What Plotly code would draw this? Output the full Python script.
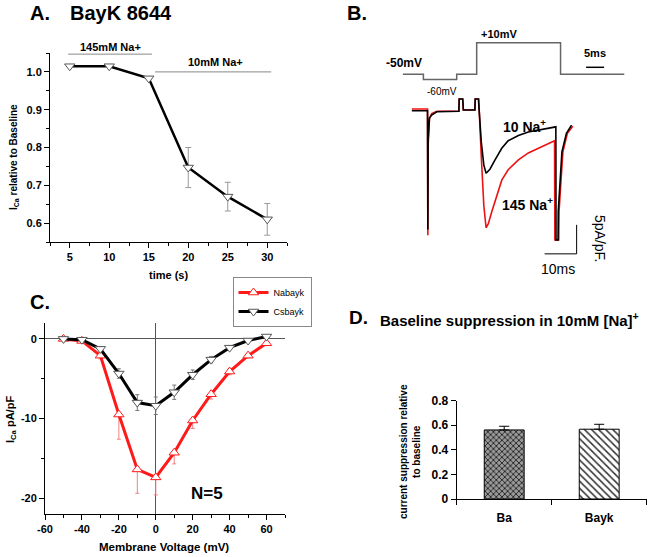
import plotly.graph_objects as go

W, H = 652, 557
FONT = 'Arial, Liberation Sans, sans-serif'

# ---- A: I_Ca relative to baseline over time (BayK 8644)
time_s = [5, 10, 15, 20, 25, 30]
ica_rel = [1.015, 1.015, 0.983, 0.747, 0.670, 0.610]
ica_rel_err = [0, 0, 0, 0.053, 0.038, 0.042]

# ---- B: example current traces (ms, pA/pF) and voltage protocol
na145_t = [3.7, 8.6, 8.7, 8.8, 9.2, 9.9, 11.5, 18.4, 18.5, 19.6, 19.8, 23.4, 23.5, 24.6, 25.4,
           26.2, 26.9, 27.6, 28.7, 30.2, 31.8, 33.8, 37.0, 40.1, 44.3, 48.3, 48.4, 49.6, 49.7,
           50.3, 50.9, 52.3, 54.0]
na145_i = [0.17, 0.17, -21.6, -6.0, -1.5, -0.6, -0.2, -0.2, 1.9, 1.9, 0.0, 0.0, 1.9, 1.9, -8.0,
           -16.5, -20.3, -19.6, -17.5, -14.7, -12.1, -10.3, -8.6, -7.4, -6.3, -5.3, -22.4, -22.4,
           -17.5, -11.8, -7.2, -4.0, -2.8]
na10_t = [3.7, 8.6, 8.7, 8.8, 9.2, 9.9, 11.5, 18.4, 18.5, 19.6, 19.8, 23.4, 23.5, 24.5, 25.4,
          26.2, 26.9, 28.1, 29.7, 31.8, 33.8, 37.0, 40.1, 44.3, 48.7, 48.75, 49.4, 49.45, 50.0,
          50.6, 52.0, 53.6]
na10_i = [-0.12, -0.12, -20.6, -5.0, -1.4, -0.86, -0.3, -0.2, 1.9, 1.9, 0.0, 0.0, 1.9, 1.9, -5.5,
          -9.5, -10.9, -10.2, -8.6, -6.6, -5.3, -4.4, -3.8, -3.3, -2.9, -22.4, -22.4, -17.5,
          -11.8, -7.2, -4.0, -2.6]
proto_t = [0.8, 6.5, 6.5, 15.75, 15.75, 21.3, 21.3, 44.6, 44.6, 62.3]
proto_mv = [-50, -50, -60, -60, -50, -50, 10, 10, -50, -50]

# ---- C: I-V relationship
voltage = [-50, -40, -30, -20, -10, 0, 10, 20, 30, 40, 50, 60]
nabayk = [0, -0.25, -2.1, -9.5, -16.4, -17.4, -14.3, -10.25, -6.95, -4.1, -2.1, -0.55]
nabayk_err = [0.1, 0.2, 0.4, 3.1, 3.0, 2.2, 1.4, 1.0, 0.6, 0.4, 0.3, 0.2]
csbayk = [0, -0.1, -1.25, -4.35, -8.0, -8.4, -6.7, -4.5, -2.6, -1.1, -0.2, 0.3]
csbayk_err = [0.1, 0.2, 0.3, 0.6, 1.0, 1.1, 0.9, 0.6, 0.4, 0.2, 0.1, 0.1]

# ---- D: baseline suppression in 10mM Na
groups = ['Ba', 'Bayk']
suppression = [0.562, 0.568]
suppression_err = [0.03, 0.04]


def px(x):
    return x / W


def py(y):
    return 1 - y / H


fig = go.Figure()

# A
fig.add_trace(go.Scatter(
    x=time_s, y=ica_rel, mode='lines+markers', xaxis='x', yaxis='y',
    line=dict(color='black', width=2.5),
    marker=dict(symbol='triangle-down', size=9, color='white', line=dict(color='#555', width=1)),
    error_y=dict(type='data', array=ica_rel_err, color='#999', thickness=1, width=3),
    showlegend=False))

# B traces (red under black)
fig.add_trace(go.Scatter(x=na145_t, y=na145_i, mode='lines', xaxis='x4', yaxis='y4',
                         line=dict(color='#ee1111', width=1.6), showlegend=False))
fig.add_trace(go.Scatter(x=na10_t, y=na10_i, mode='lines', xaxis='x4', yaxis='y4',
                         line=dict(color='black', width=1.6), showlegend=False))
fig.add_trace(go.Scatter(x=proto_t, y=proto_mv, mode='lines', xaxis='x5', yaxis='y5',
                         line=dict(color='#666', width=1.5), showlegend=False))

# C
fig.add_trace(go.Scatter(
    x=voltage, y=nabayk, name='Nabayk', mode='lines+markers', xaxis='x2', yaxis='y2',
    line=dict(color='#ff1a1a', width=3),
    marker=dict(symbol='triangle-up', size=9, color='white', line=dict(color='#ff1a1a', width=1)),
    error_y=dict(type='data', symmetric=False, array=[0] * len(nabayk_err), arrayminus=nabayk_err,
                 color='#f08080', thickness=1, width=2)))
fig.add_trace(go.Scatter(
    x=voltage, y=csbayk, name='Csbayk', mode='lines+markers', xaxis='x2', yaxis='y2',
    line=dict(color='black', width=3),
    marker=dict(symbol='triangle-down', size=9, color='white', line=dict(color='#555', width=1)),
    error_y=dict(type='data', array=csbayk_err, color='#777', thickness=1, width=2)))

# D
fig.add_trace(go.Bar(
    x=groups[:1], y=suppression[:1], xaxis='x3', yaxis='y3', width=0.42,
    marker=dict(color='#777', line=dict(color='black', width=1),
                pattern=dict(shape='x', fgcolor='#222', bgcolor='#999', size=4, solidity=0.4)),
    error_y=dict(type='data', symmetric=False, array=suppression_err[:1], arrayminus=[0],
                 color='black', thickness=1, width=5),
    showlegend=False))
fig.add_trace(go.Bar(
    x=groups[1:], y=suppression[1:], xaxis='x3', yaxis='y3', width=0.42,
    marker=dict(color='white', line=dict(color='black', width=1),
                pattern=dict(shape='\\', fgcolor='#333', bgcolor='white', size=5, solidity=0.3)),
    error_y=dict(type='data', symmetric=False, array=suppression_err[1:], arrayminus=[0],
                 color='black', thickness=1, width=5),
    showlegend=False))

bold = dict(family=FONT, size=11, color='black', weight='bold')
ax_common = dict(showline=True, linecolor='black', linewidth=1, ticks='outside', ticklen=5,
                 tickwidth=1, tickcolor='black', showgrid=False, zeroline=False, tickfont=bold,
                 automargin=False)
ax_hidden = dict(visible=False, showgrid=False, zeroline=False, automargin=False)

shapes = [
    # A: solution bars
    dict(type='line', xref='x', yref='y', x0=4.8, x1=15.4, y0=1.047, y1=1.047,
         line=dict(color='#888', width=1)),
    dict(type='line', xref='x', yref='y', x0=15.8, x1=30.5, y0=1.0, y1=1.0,
         line=dict(color='#888', width=1)),
    # B: scale bars
    dict(type='line', xref='x4', yref='y4', x0=45.2, x1=55.2, y0=-24.8, y1=-24.8,
         line=dict(color='black', width=1)),
    dict(type='line', xref='x4', yref='y4', x0=55.2, x1=55.2, y0=-24.8, y1=-19.8,
         line=dict(color='black', width=1)),
    dict(type='line', xref='x5', yref='y5', x0=51.7, x1=56.7, y0=-36.7, y1=-36.7,
         line=dict(color='black', width=1.5)),
]


def note(text, x, y, size=11, weight='bold', angle=0, xanchor='center'):
    return dict(text=text, x=px(x), y=py(y), xref='paper', yref='paper', showarrow=False,
                textangle=angle, xanchor=xanchor, yanchor='middle',
                font=dict(family=FONT, size=size, color='black', weight=weight))


annotations = [
    note('A.', 28, 13, 20, xanchor='left'),
    note('BayK 8644', 68, 13, 20, xanchor='left'),
    note('145mM Na+', 110, 47, 11),
    note('10mM Na+', 215, 62, 11),
    note('I<sub>Ca</sub> relative to Baseline', 14, 157, 10, angle=-90),
    note('time (s)', 168, 275, 11),
    note('B.', 345, 13, 20, xanchor='left'),
    note('-50mV', 404, 63, 12),
    note('+10mV', 499, 34, 11),
    note('5ms', 595, 53, 11),
    note('-60mV', 442, 91, 10, weight='normal'),
    note('10 Na<sup>+</sup>', 524, 126, 14),
    note('145 Na<sup>+</sup>', 527, 204, 14),
    note('5pA/pF.', 600, 238, 14, weight='normal', angle=90),
    note('10ms', 558, 269, 14, weight='normal'),
    note('C.', 28, 302, 20, xanchor='left'),
    note('N=5', 207, 493, 17),
    note('I<sub>Ca</sub> pA/pF', 11, 420, 11, angle=-90),
    note('Membrane Voltage (mV)', 164, 547, 11.5),
    note('D.', 347, 317, 19, xanchor='left'),
    note('Baseline suppression in 10mM [Na]<sup>+</sup>', 378, 319, 15, xanchor='left'),
    note('current suppression relative<br>to baseline', 410, 452, 10, angle=-90),
]

c_ticks = [-60, -40, -20, 0, 20, 40, 60]
c_yticks = [-20, -10, 0]
d_yticks = [0, 0.2, 0.4, 0.6, 0.8]

fig.update_layout(
    template='none',
    width=W, height=H, autosize=False,
    margin=dict(l=0, r=0, t=0, b=0, pad=0),
    paper_bgcolor='white', plot_bgcolor='rgba(0,0,0,0)',
    font=dict(family=FONT, color='black'),
    xaxis=dict(ax_common, domain=[px(50), px(287)], range=[2.5, 32.5], anchor='y',
               tick0=0, dtick=5, minor=dict(dtick=2.5, ticks='outside', ticklen=3)),
    yaxis=dict(ax_common, domain=[py(242), py(53)], range=[0.55, 1.05], anchor='x',
               tick0=0, dtick=0.1, tickformat='.1f', minor=dict(dtick=0.05, ticks='outside', ticklen=3)),
    xaxis2=dict(ax_common, domain=[px(45), px(285)], range=[-60, 70], anchor='y2',
                tickmode='array', tickvals=c_ticks, ticktext=[str(v) for v in c_ticks],
                zeroline=True, zerolinecolor='#555', zerolinewidth=1,
                minor=dict(tickmode='linear', tick0=0, dtick=10, ticks='outside', ticklen=3)),
    yaxis2=dict(ax_common, domain=[py(514), py(323)], range=[-22, 2], anchor='x2',
                tickmode='array', tickvals=c_yticks, ticktext=[str(v) for v in c_yticks],
                zeroline=True, zerolinecolor='#555', zerolinewidth=1,
                minor=dict(tickmode='linear', tick0=0, dtick=5, ticks='outside', ticklen=3)),
    xaxis3=dict(ax_common, domain=[px(456.7), px(646.7)], anchor='y3', type='category',
                tickson='boundaries', ticklen=5, ticklabelstandoff=8,
                tickfont=dict(bold, size=12)),
    yaxis3=dict(ax_common, domain=[py(499), py(400.7)], range=[0, 0.8], anchor='x3',
                tickmode='array', tickvals=d_yticks, ticktext=[f'{v:g}' for v in d_yticks],
                tickfont=dict(bold, size=12)),
    xaxis4=dict(ax_hidden, domain=[px(400), px(640)], range=[0, 75], anchor='y4'),
    yaxis4=dict(ax_hidden, domain=[py(260), py(95)], range=[-25.86, 2.59], anchor='x4'),
    xaxis5=dict(ax_hidden, domain=[px(400), px(640)], range=[0, 66.67], anchor='y5'),
    yaxis5=dict(ax_hidden, domain=[py(90), py(30)], range=[-79.8, 34.1], anchor='x5'),
    bargap=0.5,
    showlegend=True,
    # plotly's legend rows are taller than the original's, so grow the box upwards
    legend=dict(x=px(272), y=py(327), xanchor='center', yanchor='bottom',
                bordercolor='#888', borderwidth=1, bgcolor='white',
                font=dict(family=FONT, size=9, color='black'),
                itemwidth=30, tracegroupgap=0),
    shapes=shapes,
    annotations=annotations,
)

# drop the default page margin so the figure sits at the window's top-left corner
fig.write_html('out.html', config={'displayModeBar': False},
               post_script="document.body.style.margin = '0px';")
